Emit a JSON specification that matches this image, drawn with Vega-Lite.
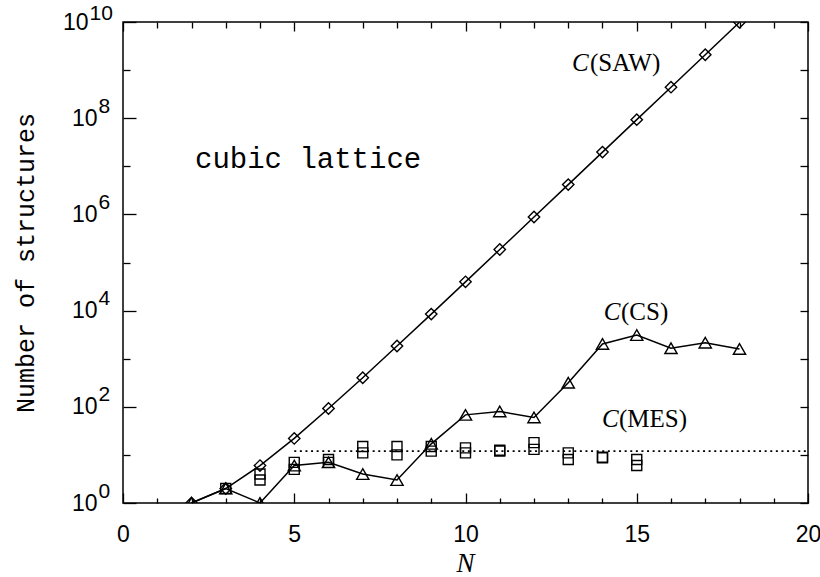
{
  "$schema": "https://vega.github.io/schema/vega-lite/v6.json",
  "width": 685,
  "height": 481,
  "autosize": "none",
  "padding": {"left": 123, "top": 22, "right": 12, "bottom": 74},
  "background": "white",
  "config": {
    "view": {"stroke": "black", "strokeWidth": 1.5},
    "axis": {"grid": false, "domain": false, "tickColor": "black", "tickWidth": 1.3, "labelColor": "black", "titleColor": "black", "labelOverlap": false, "labelFlush": false}
  },
  "datasets": {
    "saw": [
      {"N": 2, "C": 1}, {"N": 3, "C": 2}, {"N": 4, "C": 6}, {"N": 5, "C": 22},
      {"N": 6, "C": 92}, {"N": 7, "C": 402}, {"N": 8, "C": 1832}, {"N": 9, "C": 8453},
      {"N": 10, "C": 39640}, {"N": 11, "C": 186296}, {"N": 12, "C": 881147},
      {"N": 13, "C": 4162866}, {"N": 14, "C": 19721230}, {"N": 15, "C": 93250730},
      {"N": 16, "C": 441549914}, {"N": 17, "C": 2086950250}, {"N": 18, "C": 9872284420}
    ],
    "cs": [
      {"N": 2, "C": 1}, {"N": 3, "C": 2}, {"N": 4, "C": 1}, {"N": 5, "C": 6},
      {"N": 6, "C": 7}, {"N": 7, "C": 4}, {"N": 8, "C": 3}, {"N": 9, "C": 17},
      {"N": 10, "C": 68}, {"N": 11, "C": 80}, {"N": 12, "C": 60}, {"N": 13, "C": 316},
      {"N": 14, "C": 2030}, {"N": 15, "C": 3100}, {"N": 16, "C": 1650},
      {"N": 17, "C": 2150}, {"N": 18, "C": 1590}
    ],
    "mes": [
      {"N": 3, "C": 2},
      {"N": 4, "C": 4}, {"N": 4, "C": 3},
      {"N": 5, "C": 7}, {"N": 5, "C": 5},
      {"N": 6, "C": 8}, {"N": 6, "C": 7},
      {"N": 7, "C": 15}, {"N": 7, "C": 11},
      {"N": 8, "C": 15}, {"N": 8, "C": 10},
      {"N": 9, "C": 15}, {"N": 9, "C": 12},
      {"N": 10, "C": 14}, {"N": 10, "C": 11},
      {"N": 11, "C": 12.5}, {"N": 11, "C": 12},
      {"N": 12, "C": 18}, {"N": 12, "C": 13},
      {"N": 13, "C": 11}, {"N": 13, "C": 8},
      {"N": 14, "C": 9}, {"N": 14, "C": 8.7},
      {"N": 15, "C": 8}, {"N": 15, "C": 6}
    ],
    "dotted": [{"N": 5, "C": 12}, {"N": 20, "C": 12}],
    "italicLabels": [
      {"N": 13.11, "C": 958000000, "t": "C"},
      {"N": 14.04, "C": 6530, "t": "C"},
      {"N": 13.985, "C": 38, "t": "C"}
    ],
    "uprightLabels": [
      {"N": 13.635, "C": 958000000, "t": "(SAW)"},
      {"N": 14.54, "C": 6530, "t": "(CS)"},
      {"N": 14.48, "C": 38, "t": "(MES)"}
    ],
    "monoLabels": [
      {"N": 2.102, "C": 9220000, "t": "cubic lattice"}
    ]
  },
  "resolve": {"axis": {"x": "independent", "y": "independent"}},
  "layer": [
    {
      "data": {"name": "saw"},
      "mark": {"type": "line", "color": "black", "strokeWidth": 1.5, "clip": true},
      "encoding": {
        "x": {
          "field": "N", "type": "quantitative",
          "scale": {"domain": [0, 20], "nice": false, "zero": false},
          "axis": {
            "orient": "bottom",
            "values": [0, 5, 10, 15, 20],
            "tickSize": -10,
            "labelFont": "Liberation Sans",
            "labelFontSize": 23,
            "labelPadding": 30,
            "title": "N",
            "titleFont": "Liberation Serif",
            "titleFontStyle": "italic",
            "titleFontWeight": "normal",
            "titleFontSize": 27,
            "titleX": 342,
            "titleY": 68,
            "titleBaseline": "alphabetic"
          }
        },
        "y": {
          "field": "C", "type": "quantitative",
          "scale": {"type": "log", "domain": [1, 10000000000], "nice": false},
          "axis": {
            "orient": "left",
            "values": [1, 100, 10000, 1000000, 100000000],
            "labelExpr": "'10'",
            "tickSize": -13,
            "labelFont": "Liberation Sans",
            "labelFontSize": 23,
            "labelAlign": "right",
            "labelBaseline": "middle",
            "labelPadding": 39,
            "title": "Number of structures",
            "titleFont": "Liberation Mono",
            "titleFontSize": 25,
            "titleFontWeight": "normal",
            "titleAngle": -90,
            "titleX": -90,
            "titleY": 240.5,
            "titleAlign": "center",
            "titleBaseline": "alphabetic"
          }
        }
      }
    },
    {
      "data": {"name": "cs"},
      "mark": {"type": "line", "color": "black", "strokeWidth": 1.5, "clip": true},
      "encoding": {
        "x": {
          "field": "N", "type": "quantitative",
          "scale": {"domain": [0, 20], "nice": false, "zero": false},
          "axis": {
            "orient": "top",
            "values": [0, 5, 10, 15, 20],
            "labels": false,
            "tickSize": -9,
            "title": null
          }
        },
        "y": {
          "field": "C", "type": "quantitative",
          "scale": {"type": "log", "domain": [1, 10000000000], "nice": false},
          "axis": {
            "orient": "left",
            "values": [1, 100, 10000, 1000000, 100000000],
            "ticks": false,
            "labelExpr": "'' + round(log(datum.value)/LN10)",
            "labelFont": "Liberation Sans",
            "labelFontSize": 21,
            "labelAlign": "left",
            "labelBaseline": "middle",
            "labelPadding": 25,
            "labelOffset": -12,
            "title": null
          }
        }
      }
    },
    {
      "data": {"name": "mes"},
      "mark": {"type": "point", "shape": "square", "filled": false, "size": 100, "stroke": "black", "strokeWidth": 1.4, "opacity": 1, "clip": true},
      "encoding": {
        "x": {"field": "N", "type": "quantitative", "scale": {"domain": [0, 20], "nice": false, "zero": false}, "axis": null},
        "y": {
          "field": "C", "type": "quantitative",
          "scale": {"type": "log", "domain": [1, 10000000000], "nice": false},
          "axis": {
            "orient": "right",
            "values": [1, 10, 100, 1000, 10000, 100000, 1000000, 10000000, 100000000, 1000000000, 10000000000],
            "labels": false,
            "tickSize": -8,
            "title": null
          }
        }
      }
    },
    {
      "data": {"name": "saw"},
      "mark": {"type": "point", "shape": "diamond", "filled": false, "size": 130, "stroke": "black", "strokeWidth": 1.4, "opacity": 1, "clip": true},
      "encoding": {
        "x": {
          "field": "N", "type": "quantitative",
          "scale": {"domain": [0, 20], "nice": false, "zero": false},
          "axis": {
            "orient": "bottom",
            "values": [1,2,3,4,6,7,8,9,11,12,13,14,16,17,18,19],
            "labels": false,
            "tickSize": -5,
            "title": null
          }
        },
        "y": {
          "field": "C", "type": "quantitative",
          "scale": {"type": "log", "domain": [1, 10000000000], "nice": false},
          "axis": {
            "orient": "left",
            "values": [10, 1000, 100000, 10000000, 1000000000],
            "labels": false,
            "tickSize": -7,
            "title": null
          }
        }
      }
    },
    {
      "data": {"name": "cs"},
      "mark": {"type": "point", "shape": "triangle-up", "filled": false, "size": 150, "stroke": "black", "strokeWidth": 1.4, "opacity": 1, "clip": true},
      "encoding": {
        "x": {
          "field": "N", "type": "quantitative",
          "scale": {"domain": [0, 20], "nice": false, "zero": false},
          "axis": {
            "orient": "top",
            "values": [1,2,3,4,6,7,8,9,11,12,13,14,16,17,18,19],
            "labels": false,
            "tickSize": -6,
            "title": null
          }
        },
        "y": {
          "field": "C", "type": "quantitative",
          "scale": {"type": "log", "domain": [1, 10000000000], "nice": false},
          "axis": {
            "orient": "left",
            "values": [10000000000],
            "labelExpr": "'10'",
            "tickSize": -13,
            "labelFont": "Liberation Sans",
            "labelFontSize": 23,
            "labelAlign": "right",
            "labelBaseline": "middle",
            "labelPadding": 48,
            "title": null
          }
        }
      }
    },
    {
      "data": {"name": "dotted"},
      "mark": {"type": "line", "color": "black", "strokeWidth": 1.6, "strokeDash": [2, 3.6], "clip": true},
      "encoding": {
        "x": {"field": "N", "type": "quantitative", "scale": {"domain": [0, 20], "nice": false, "zero": false}, "axis": null},
        "y": {
          "field": "C", "type": "quantitative",
          "scale": {"type": "log", "domain": [1, 10000000000], "nice": false},
          "axis": {
            "orient": "left",
            "values": [10000000000],
            "ticks": false,
            "labelExpr": "'10'",
            "labelFont": "Liberation Sans",
            "labelFontSize": 21,
            "labelAlign": "left",
            "labelBaseline": "middle",
            "labelPadding": 34,
            "labelOffset": -9,
            "title": null
          }
        }
      }
    },
    {
      "data": {"name": "italicLabels"},
      "mark": {"type": "text", "font": "Liberation Serif", "fontStyle": "italic", "fontSize": 25, "align": "left", "baseline": "alphabetic", "color": "black"},
      "encoding": {
        "x": {"field": "N", "type": "quantitative", "scale": {"domain": [0, 20], "nice": false, "zero": false}, "axis": null},
        "y": {"field": "C", "type": "quantitative", "scale": {"type": "log", "domain": [1, 10000000000], "nice": false}, "axis": null},
        "text": {"field": "t"}
      }
    },
    {
      "data": {"name": "uprightLabels"},
      "mark": {"type": "text", "font": "Liberation Serif", "fontSize": 25, "align": "left", "baseline": "alphabetic", "color": "black"},
      "encoding": {
        "x": {"field": "N", "type": "quantitative", "scale": {"domain": [0, 20], "nice": false, "zero": false}, "axis": null},
        "y": {"field": "C", "type": "quantitative", "scale": {"type": "log", "domain": [1, 10000000000], "nice": false}, "axis": null},
        "text": {"field": "t"}
      }
    },
    {
      "data": {"name": "monoLabels"},
      "mark": {"type": "text", "font": "Liberation Mono", "fontSize": 29, "align": "left", "baseline": "alphabetic", "color": "black"},
      "encoding": {
        "x": {"field": "N", "type": "quantitative", "scale": {"domain": [0, 20], "nice": false, "zero": false}, "axis": null},
        "y": {"field": "C", "type": "quantitative", "scale": {"type": "log", "domain": [1, 10000000000], "nice": false}, "axis": null},
        "text": {"field": "t"}
      }
    }
  ]
}
